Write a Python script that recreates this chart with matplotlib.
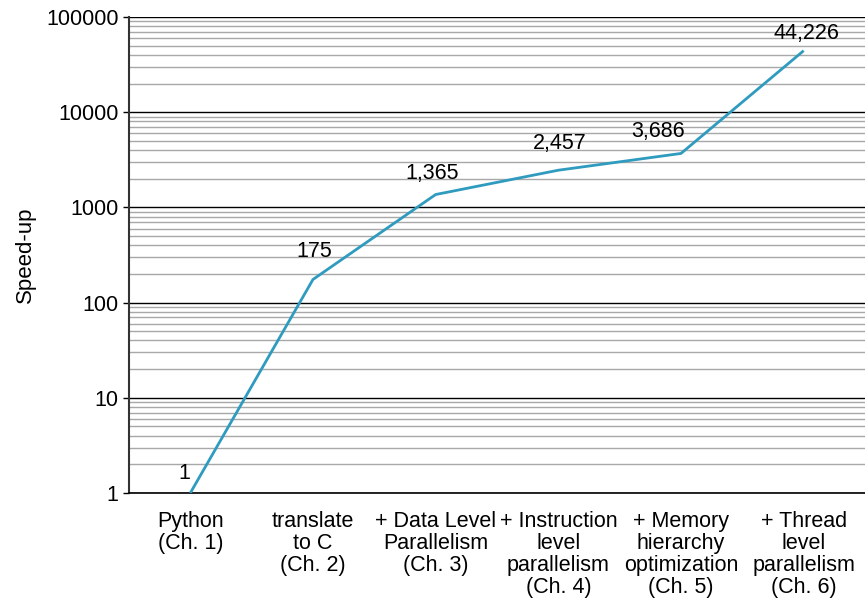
import matplotlib
matplotlib.use("Agg")
import matplotlib.pyplot as plt
from matplotlib.ticker import LogLocator, FixedLocator, NullFormatter

plt.rcParams['font.family'] = ['Liberation Sans', 'DejaVu Sans']

stages = ["Python\n(Ch. 1)", "translate\nto C\n(Ch. 2)", "+ Data Level\nParallelism\n(Ch. 3)",
          "+ Instruction\nlevel\nparallelism\n(Ch. 4)", "+ Memory\nhierarchy\noptimization\n(Ch. 5)",
          "+ Thread\nlevel\nparallelism\n(Ch. 6)"]
speedup = [1, 175, 1365, 2457, 3686, 44226]
y_ticks = [1, 10, 100, 1000, 10000, 100000]

# label offsets (points) relative to each data point
label_dx = [-4.3, 0.7, -2.2, 0.7, -16.5, 2.2]
label_dy = [13.7, 20.2, 15.1, 19.4, 15.8, 12.2]

FS = 15.5

fig = plt.figure(figsize=(8.65, 6.08), dpi=100)
ax = fig.add_axes([0.1491, 0.1891, 0.8509, 0.783])

x = list(range(len(stages)))
ax.plot(x, speedup, color="#2e9bbf", lw=2, zorder=3, solid_capstyle="butt")

for xi, v, dx, dy in zip(x, speedup, label_dx, label_dy):
    ax.annotate(f"{v:,}", (xi, v), xytext=(dx, dy), textcoords="offset points",
                ha="center", va="center", fontsize=FS, color="black")

ax.set_yscale("log")
ax.set_ylim(1, 100000)
ax.set_xlim(-0.5, len(stages) - 0.5)
ax.yaxis.set_major_locator(FixedLocator(y_ticks))
ax.set_yticklabels([str(t) for t in y_ticks])
ax.yaxis.set_minor_locator(LogLocator(base=10, subs=range(2, 10)))
ax.yaxis.set_minor_formatter(NullFormatter())

ax.grid(which="major", axis="y", color="black", lw=1.0)
ax.grid(which="minor", axis="y", color="#a8a8a8", lw=1.0)
ax.set_axisbelow(True)

ax.set_xticks(x)
ax.set_xticklabels(stages, fontsize=FS, va="top", linespacing=1.06)
ax.tick_params(axis="x", length=0, pad=13)
ax.tick_params(axis="y", which="major", length=4.5, width=1, labelsize=FS, pad=3)
ax.tick_params(axis="y", which="minor", length=0)

for s in ["top", "right"]:
    ax.spines[s].set_visible(False)
ax.spines["left"].set_color("#333333")
ax.spines["bottom"].set_color("black")
ax.spines["left"].set_linewidth(1.5)
ax.spines["bottom"].set_linewidth(1.2)

ax.set_ylabel("Speed-up", fontsize=16)
ax.yaxis.set_label_coords(-0.1265, 0.5)

fig.savefig("out.png", dpi=100)
